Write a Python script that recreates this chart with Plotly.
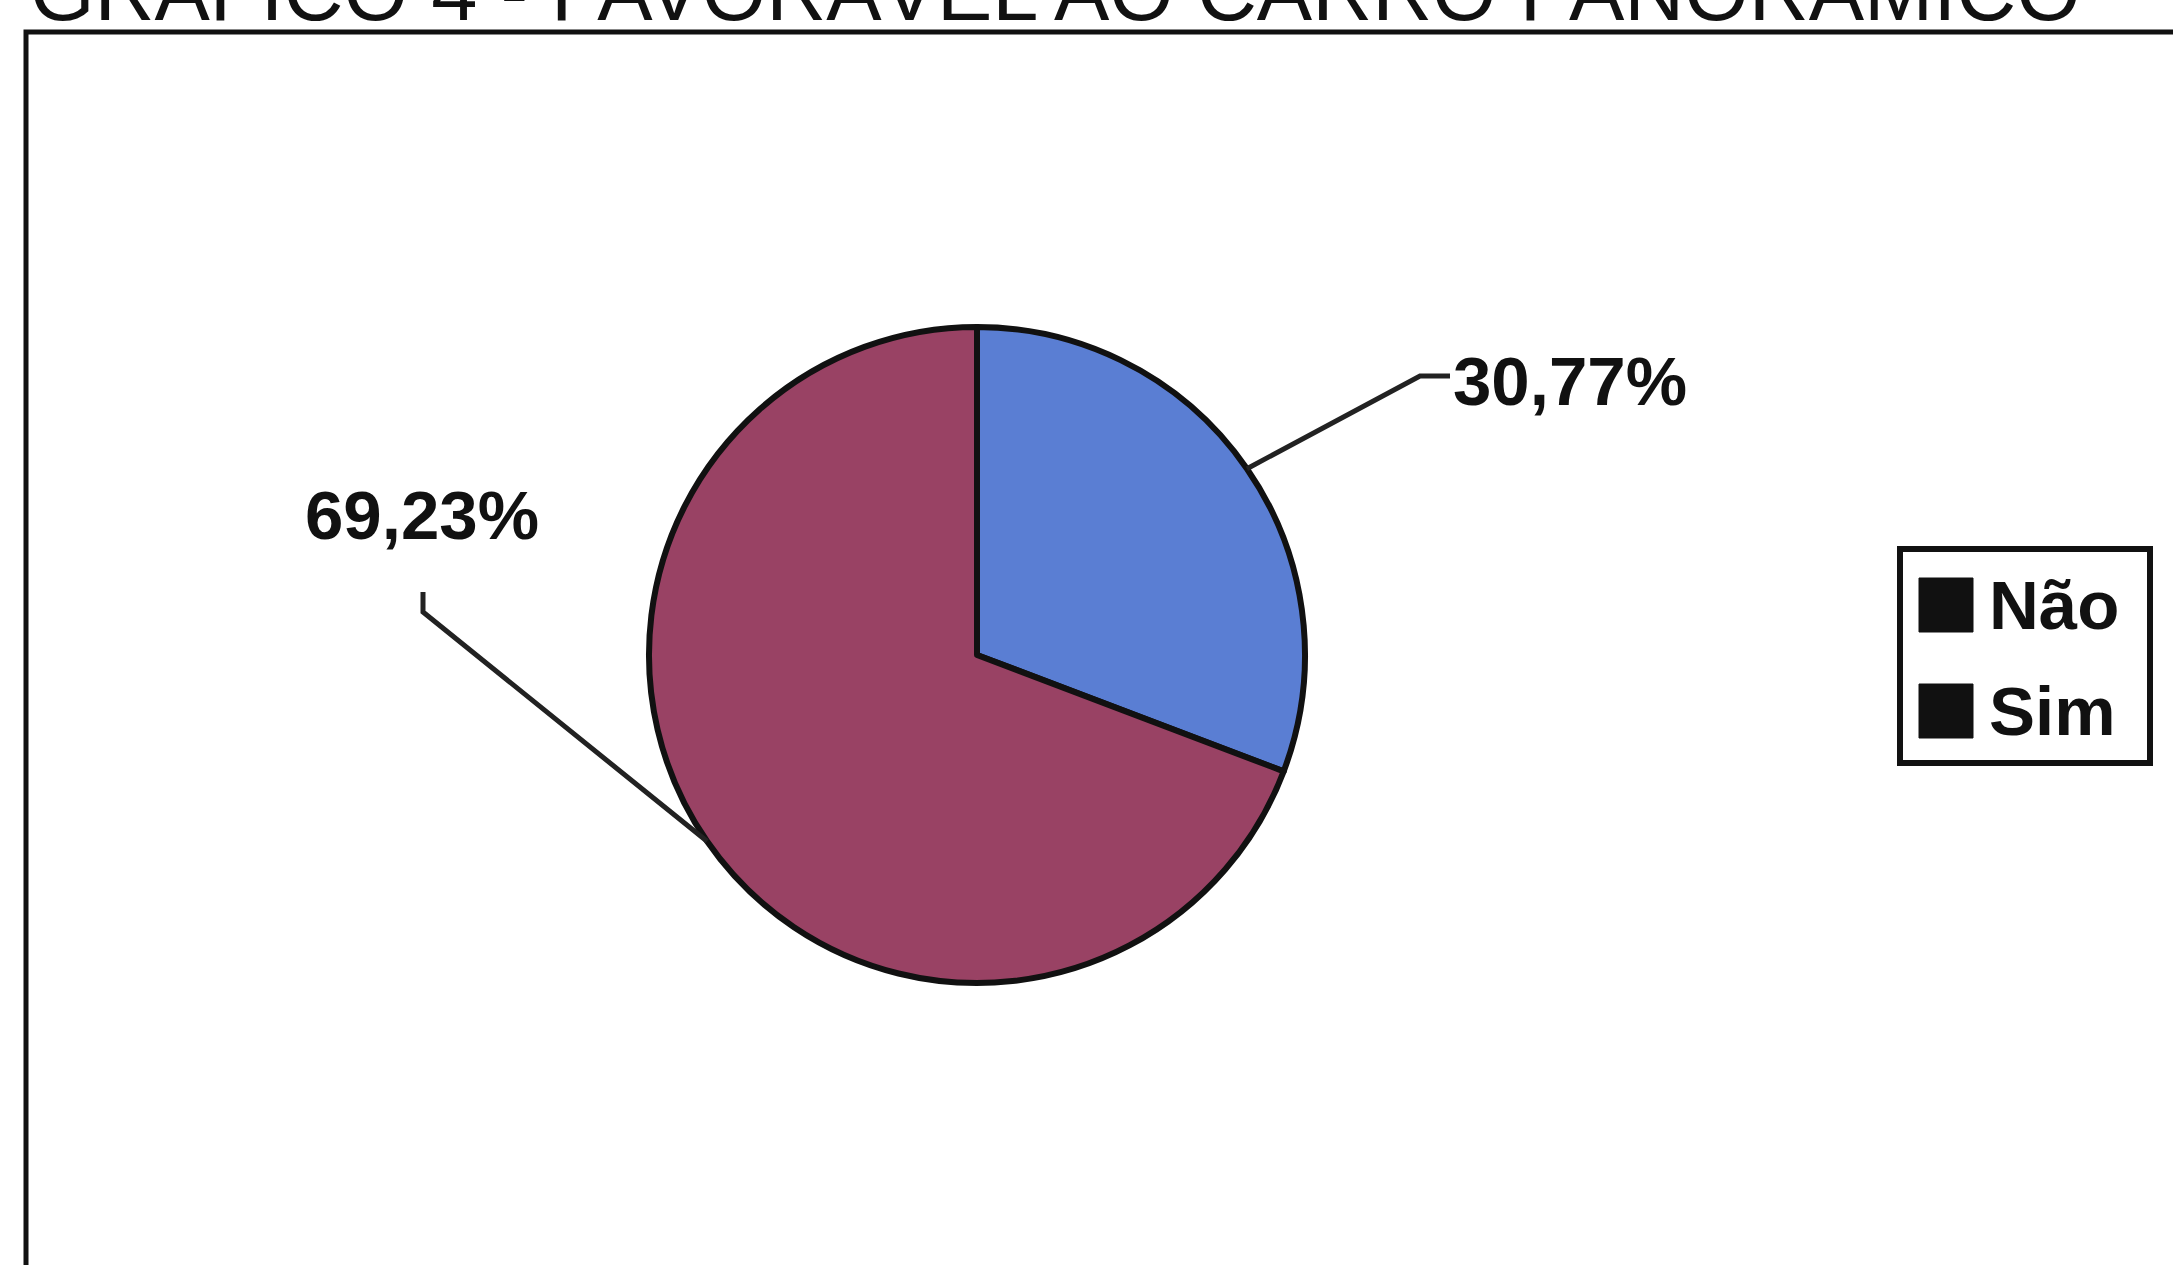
import math
import plotly.graph_objects as go

# ---- data ----
categories = ["Não", "Sim"]
values = [30.77, 69.23]
value_labels = ["30,77%", "69,23%"]
colors = ["#5A7ED3", "#994264"]
title_text = "GRÁFICO 4 - FAVORÁVEL AO CARRO PANORÂMICO"

# ---- layout constants (pixels) ----
W, H = 2173, 1265
cx, cy, r = 977, 655, 328
FONT = "Liberation Sans, Arial, Helvetica, sans-serif"


def px(x):
    return x / W


def py(y):
    return 1 - y / H


fig = go.Figure(
    go.Pie(
        labels=categories,
        values=values,
        sort=False,
        direction="clockwise",
        rotation=0,
        marker=dict(colors=colors, line=dict(color="#111111", width=6)),
        textinfo="none",
        hoverinfo="label+percent",
        showlegend=False,
        domain=dict(x=[px(cx - r), px(cx + r)], y=[py(cy + r), py(cy - r)]),
    )
)

# leader lines from slice mid-angles
total = sum(values)
mids = []
cum = 0.0
for v in values:
    mids.append((cum + v / 2) / total * 2 * math.pi)
    cum += v

elbows = [[(1420, 376), (1450, 376)], [(423, 612), (423, 592)]]
label_pos = [(1451, 381), (303, 515)]

shapes = []
annotations = []
for i, a in enumerate(mids):
    ex = cx + r * math.sin(a)
    ey = cy - r * math.cos(a)
    pts = [(ex, ey)] + elbows[i]
    path = "M " + " L ".join(f"{px(x)},{py(y)}" for x, y in pts)
    shapes.append(dict(type="path", xref="paper", yref="paper", path=path,
                       line=dict(color="#222222", width=5)))
    lx, ly = label_pos[i]
    annotations.append(dict(
        text=value_labels[i], x=px(lx), y=py(ly), xref="paper", yref="paper",
        xanchor="left", yanchor="middle", showarrow=False,
        font=dict(family=FONT, size=69, color="#111111", weight="bold")))

# frame (extends beyond right/bottom edges)
shapes.append(dict(type="rect", xref="paper", yref="paper",
                   x0=px(26), y0=py(32), x1=1.05, y1=-0.05,
                   line=dict(color="#111111", width=5)))

# legend box drawn manually (black squares as in the printed original)
shapes.append(dict(type="rect", xref="paper", yref="paper",
                   x0=px(1900), y0=py(549), x1=px(2150), y1=py(763),
                   line=dict(color="#111111", width=6), fillcolor="white"))
leg_rows = [605, 711]
for i, cat in enumerate(categories):
    yc = leg_rows[i]
    shapes.append(dict(type="rect", xref="paper", yref="paper",
                       x0=px(1919), y0=py(yc - 27), x1=px(1973), y1=py(yc + 27),
                       line=dict(color="#111111", width=1), fillcolor="#111111"))
    annotations.append(dict(
        text=cat, x=px(1987), y=py(yc), xref="paper", yref="paper",
        xanchor="left", yanchor="middle", showarrow=False,
        font=dict(family=FONT, size=69, color="#111111", weight="bold")))

# title (cut off at the top as in the scan)
annotations.append(dict(
    text=title_text, x=px(28), y=py(-9), xref="paper", yref="paper",
    xanchor="left", yanchor="middle", showarrow=False,
    font=dict(family=FONT, size=83, color="#111111")))

fig.update_layout(
    width=W, height=H,
    margin=dict(l=0, r=0, t=0, b=0),
    paper_bgcolor="white", plot_bgcolor="white",
    shapes=shapes, annotations=annotations,
    showlegend=False,
)

fig.write_html("out.html", config={"displayModeBar": False})
